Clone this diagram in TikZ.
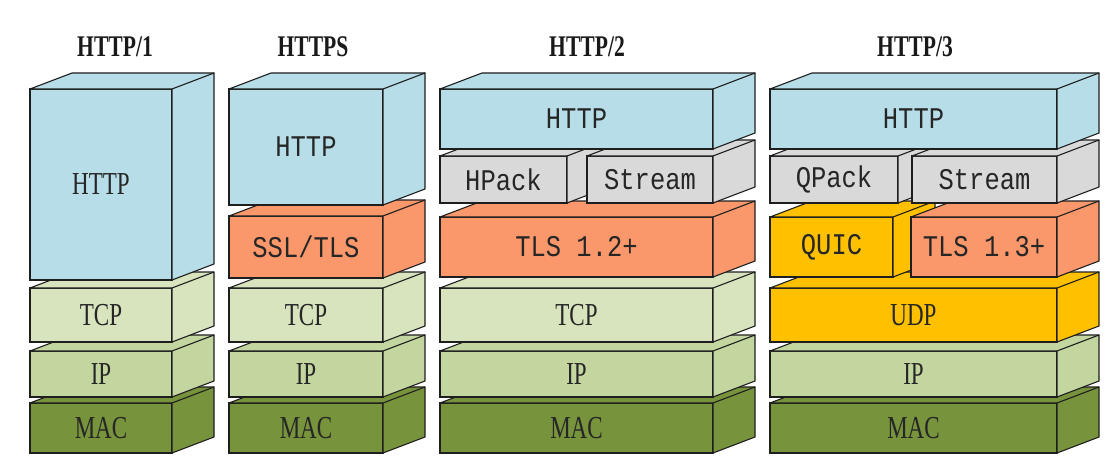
\documentclass[tikz,border=0pt]{standalone}
\usepackage{fontspec}
\setmainfont{Liberation Serif}[FakeStretch=0.72]
\setmonofont{Liberation Mono}[FakeStretch=0.85]
\usepackage{tikz}

\definecolor{httpblue}{RGB}{183,222,232}
\definecolor{tlsorange}{RGB}{250,152,108}
\definecolor{tcpgreen}{RGB}{215,228,189}
\definecolor{ipgreen}{RGB}{196,214,160}
\definecolor{macgreen}{RGB}{119,147,60}
\definecolor{packgray}{RGB}{217,217,217}
\definecolor{udpyellow}{RGB}{255,192,0}
\definecolor{edge}{RGB}{30,30,30}

% top and side faces of a layer, drawn after its front node
\newcommand{\slab}[2]{%
  \filldraw[draw=edge, fill=#2, line width=1.1pt, line join=round]
    (#1.north west) -- ([shift={(42,-16)}]#1.north west)
    -- ([shift={(42,-16)}]#1.north east) -- ([shift={(42,-16)}]#1.south east)
    -- (#1.south east) -- (#1.north east) -- cycle;
  \draw[draw=edge, line width=1.1pt, line cap=round]
    (#1.north east) -- ([shift={(42,-16)}]#1.north east);
}

\begin{document}
\begin{tikzpicture}[
    x=1pt, y=-1pt,
    lay/.style={rectangle, draw=edge, line width=1.1pt, inner sep=0pt, outer sep=0pt,
                text=black!85},
    rm/.style={lay, font=\fontsize{32}{32}\selectfont\rmfamily},
    tt/.style={lay, font=\fontsize{30}{30}\selectfont\ttfamily},
    ttl/.style={font=\fontsize{30}{30}\selectfont\bfseries, text=black!90},
  ]
  \useasboundingbox (0,0) rectangle (1119,460);

  % titles
  \node[ttl] (t1) at (115,47) {HTTP/1};
  \node[ttl] (t2) at (313,47) {HTTPS};
  \node[ttl] (t3) at (587,47) {HTTP/2};
  \node[ttl] (t4) at (915,47) {HTTP/3};

  % HTTP/1
  \node[rm, fill=macgreen, minimum width=142, minimum height=50] (a4) at (101,428) {MAC};
  \slab{a4}{macgreen}
  \node[rm, fill=ipgreen, minimum width=142, minimum height=46] (a3) at (101,374) {IP};
  \slab{a3}{ipgreen}
  \node[rm, fill=tcpgreen, minimum width=142, minimum height=54] (a2) at (101,315) {TCP};
  \slab{a2}{tcpgreen}
  \node[rm, fill=httpblue, minimum width=142, minimum height=191] (a1) at (101,184.5) {HTTP};
  \slab{a1}{httpblue}

  % HTTPS
  \node[rm, fill=macgreen, minimum width=154, minimum height=50] (b5) at (306,428) {MAC};
  \slab{b5}{macgreen}
  \node[rm, fill=ipgreen, minimum width=154, minimum height=46] (b4) at (306,374) {IP};
  \slab{b4}{ipgreen}
  \node[rm, fill=tcpgreen, minimum width=154, minimum height=54] (b3) at (306,315) {TCP};
  \slab{b3}{tcpgreen}
  \node[tt, fill=tlsorange, minimum width=154, minimum height=62] (b2) at (306,247) {SSL/TLS};
  \slab{b2}{tlsorange}
  \node[tt, fill=httpblue, minimum width=154, minimum height=116] (b1) at (306,147) {HTTP};
  \slab{b1}{httpblue}

  % HTTP/2
  \node[rm, fill=macgreen, minimum width=273, minimum height=50] (c6) at (576.5,428) {MAC};
  \slab{c6}{macgreen}
  \node[rm, fill=ipgreen, minimum width=273, minimum height=46] (c5) at (576.5,374) {IP};
  \slab{c5}{ipgreen}
  \node[rm, fill=tcpgreen, minimum width=273, minimum height=54] (c4) at (576.5,315) {TCP};
  \slab{c4}{tcpgreen}
  \node[tt, fill=tlsorange, minimum width=273, minimum height=60] (c3) at (576.5,247) {TLS 1.2+};
  \slab{c3}{tlsorange}
  \node[tt, fill=packgray, minimum width=127, minimum height=47] (c2a) at (503.5,179.5) {HPack};
  \slab{c2a}{packgray}
  \node[tt, fill=packgray, minimum width=126, minimum height=47] (c2b) at (650,179.5) {Stream};
  \slab{c2b}{packgray}
  \node[tt, fill=httpblue, minimum width=273, minimum height=60] (c1) at (576.5,119) {HTTP};
  \slab{c1}{httpblue}

  % HTTP/3
  \node[rm, fill=macgreen, minimum width=287, minimum height=50] (d6) at (913.5,428) {MAC};
  \slab{d6}{macgreen}
  \node[rm, fill=ipgreen, minimum width=287, minimum height=46] (d5) at (913.5,374) {IP};
  \slab{d5}{ipgreen}
  \node[rm, fill=udpyellow, minimum width=287, minimum height=54] (d4) at (913.5,315) {UDP};
  \slab{d4}{udpyellow}
  \node[tt, fill=udpyellow, minimum width=123, minimum height=60] (d3a) at (831.5,247) {QUIC};
  \slab{d3a}{udpyellow}
  \node[tt, fill=tlsorange, minimum width=146, minimum height=60] (d3b) at (984,247) {TLS 1.3+};
  \slab{d3b}{tlsorange}
  \node[tt, fill=packgray, minimum width=128, minimum height=47] (d2a) at (834,179.5) {QPack};
  \slab{d2a}{packgray}
  \node[tt, fill=packgray, minimum width=145, minimum height=47] (d2b) at (984.5,179.5) {Stream};
  \slab{d2b}{packgray}
  \node[tt, fill=httpblue, minimum width=287, minimum height=60] (d1) at (913.5,119) {HTTP};
  \slab{d1}{httpblue}
\end{tikzpicture}
\end{document}
